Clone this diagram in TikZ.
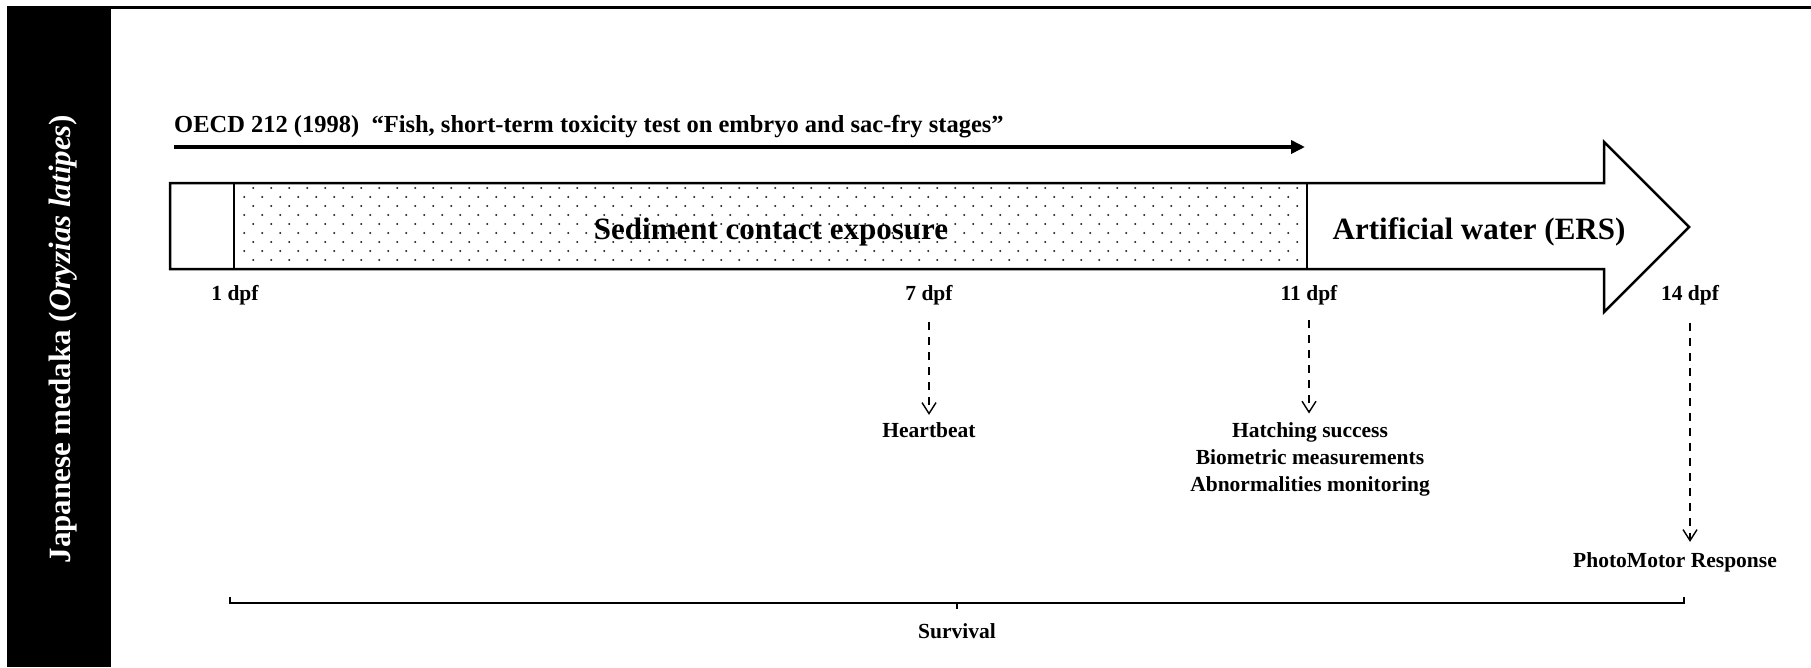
\documentclass[tikz,border=0pt]{standalone}
\usepackage{fontspec}
\setmainfont{Liberation Serif}
\usetikzlibrary{arrows.meta}
\begin{document}
\begin{tikzpicture}[x=1pt,y=-1pt]
\tikzset{
  lbl/.style={font=\bfseries\fontsize{21.5}{26.7}\selectfont, inner sep=0pt, anchor=base},
  big/.style={font=\bfseries\fontsize{31}{36}\selectfont, inner sep=0pt, anchor=base},
  meas/.style={line width=2pt, dash pattern=on 8pt off 7pt,
    -{Straight Barb[length=11pt,width=14pt,line width=1.4pt]}},
  outline/.style={line width=2.5pt, line join=miter},
  dotc/.style={fill=black!85},
}
\useasboundingbox (0,0) rectangle (1811,667);
% frame
\fill[black] (7,7) rectangle (111,667);
\draw[line width=3pt] (7,7.5) -- (1811,7.5);
\node[big, text=white, rotate=90, anchor=base] (sp) at (70,339) {Japanese medaka (\textit{Oryzias latipes})};
% dots
\foreach \k in {0,2,4,6,8} {
  \foreach \i in {0,...,58} {
    \fill[dotc] ({253.3+18*\i},{188+9*\k}) circle (1.15pt);
  }
}
\foreach \k in {1,3,5,7} {
  \foreach \i in {0,...,58} {
    \fill[dotc] ({244.3+18*\i},{188+9*\k}) circle (1.15pt);
  }
}
% big arrow outline
\draw[outline] (170,183) -- (1604,183) -- (1604,142) -- (1689,227) -- (1604,312) -- (1604,269) -- (170,269) -- cycle;
\draw[outline] (234,183) -- (234,269);
\draw[outline] (1307,183) -- (1307,269);
\node[big] (sed) at (771,239) {Sediment contact exposure};
\node[big] (art) at (1479,239) {Artificial water (ERS)};
% OECD
\node[font=\bfseries\fontsize{24.5}{29}\selectfont, inner sep=0pt, anchor=base west] (oecd) at (174,132) {OECD 212 (1998)~~“Fish, short-term toxicity test on embryo and sac-fry stages”};
\coordinate (oS) at (174,147);
\coordinate (oE) at (1305,147);
\draw[line width=4pt, -{Triangle[length=14pt,width=13pt]}] (oS) -- (oE);
% day labels
\node[lbl] (l1) at (235,300) {1 dpf};
\node[lbl] (l7) at (929,300) {7 dpf};
\node[lbl] (l11) at (1309,300) {11 dpf};
\node[lbl] (l14) at (1690,300) {14 dpf};
% endpoints
\node[lbl] (hb) at (929,437) {Heartbeat};
\node[lbl, align=center, anchor=north] (hs) at (1310,422.5) {Hatching success\\Biometric measurements\\Abnormalities monitoring};
\node[lbl] (pmr) at (1675,567) {PhotoMotor Response};
\draw[meas, shorten <=17pt, shorten >=7pt] (l7.south) -- (l7.south |- hb.north);
\draw[meas, shorten <=15pt, shorten >=9pt] (l11.south) -- (l11.south |- hs.north);
\draw[meas, shorten <=18pt, shorten >=10pt] (l14.south) -- (l14.south |- pmr.north);
% survival bracket
\coordinate (bL) at (230,597);
\coordinate (bR) at (1684,597);
\coordinate (bC) at (957,603);
\draw[line width=2pt] (bL) -- (230,603) -- (1684,603) -- (bR);
\draw[line width=2pt] (bC) -- (957,609);
\node[lbl] (surv) at (957,638) {Survival};
\end{tikzpicture}
\end{document}
